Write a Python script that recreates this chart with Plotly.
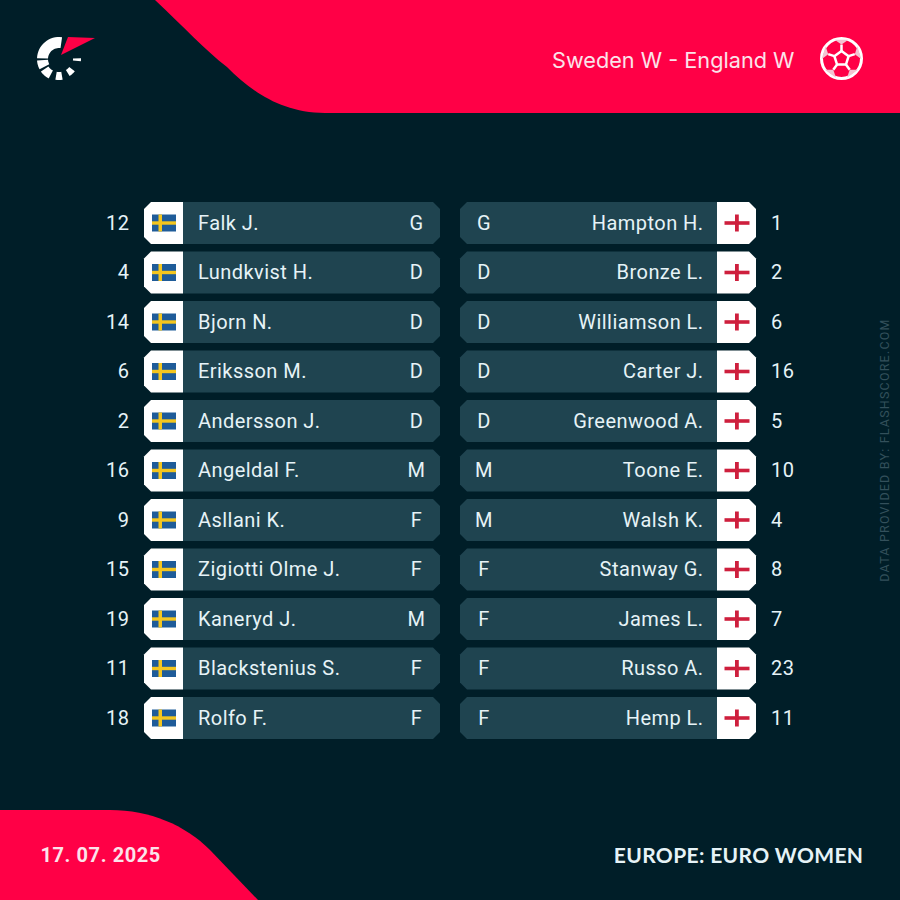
import math
import plotly.graph_objects as go

home_nums = [12, 4, 14, 6, 2, 16, 9, 15, 19, 11, 18]
home_names = ["Falk J.", "Lundkvist H.", "Bjorn N.", "Eriksson M.", "Andersson J.", "Angeldal F.",
              "Asllani K.", "Zigiotti Olme J.", "Kaneryd J.", "Blackstenius S.", "Rolfo F."]
home_pos = ["G", "D", "D", "D", "D", "M", "F", "F", "M", "F", "F"]
away_nums = [1, 2, 6, 16, 5, 10, 4, 8, 7, 23, 11]
away_names = ["Hampton H.", "Bronze L.", "Williamson L.", "Carter J.", "Greenwood A.", "Toone E.",
              "Walsh K.", "Stanway G.", "James L.", "Russo A.", "Hemp L."]
away_pos = ["G", "D", "D", "D", "D", "M", "M", "F", "F", "F", "F"]

BG = "#001e28"
RED = "#ff0046"
ROW = "#1f4450"
WHITE = "#ffffff"
TXT = "#e6f3f7"
FONT = "Roboto"

row_y = [223 + 49.5 * i for i in range(len(home_names))]
text_y = [y + 1.5 for y in row_y]

shapes = []


def poly(points, fill, line=None, width=0):
    path = "M " + " L ".join(f"{x:.2f},{y:.2f}" for x, y in points) + " Z"
    shapes.append(dict(type="path", path=path, fillcolor=fill, line=dict(color=line or fill, width=width), layer="below"))


def rect(x0, y0, x1, y1, fill):
    shapes.append(dict(type="rect", x0=x0, y0=y0, x1=x1, y1=y1, fillcolor=fill, line_width=0, layer="below"))


def sector(cx, cy, r0, r1, a0, a1, fill):
    # angles in degrees, counted clockwise from north
    steps = 16
    angles = [a0 + (a1 - a0) * k / steps for k in range(steps + 1)]
    outer = [(cx + r1 * math.sin(math.radians(a)), cy - r1 * math.cos(math.radians(a))) for a in angles]
    inner = [(cx + r0 * math.sin(math.radians(a)), cy - r0 * math.cos(math.radians(a))) for a in reversed(angles)]
    poly(outer + inner, fill)


# header and footer swooshes
shapes.append(dict(type="path", layer="below", fillcolor=RED, line_width=0,
                   path="M 155,0 C 185,28 205,50 227,67 C 250,90 280,113 325,113 L 900,113 L 900,0 Z"))
shapes.append(dict(type="path", layer="below", fillcolor=RED, line_width=0,
                   path="M 0,810 L 110,810 C 150,810 185,825 210,850 L 258,900 L 0,900 Z"))

# logo
LX, LY = 59, 59
sector(LX, LY, 11, 22, -88, 8, WHITE)
sector(LX, LY, 11, 22, -118, -94, WHITE)
sector(LX, LY, 13, 22, -152, -125, WHITE)
sector(LX, LY, 13, 21, -190, -170, WHITE)
sector(LX, LY, 13, 20, -232, -212, WHITE)
sector(LX, LY, 14, 22, -272, -264, WHITE)
poly([(68, 37), (95, 38), (61, 55)], RED)

# ball icon
BX, BY = 841.5, 58.5
shapes.append(dict(type="circle", x0=BX - 20, y0=BY - 20, x1=BX + 20, y1=BY + 20,
                   line=dict(color=WHITE, width=3), fillcolor=RED, layer="below"))
pent = [(BX + 7.5 * math.sin(math.radians(72 * k)), BY - 7.5 * math.cos(math.radians(72 * k))) for k in range(5)]
poly(pent, RED, WHITE, 2.5)
for k in range(5):
    a = math.radians(72 * k)
    x0, y0 = pent[k]
    shapes.append(dict(type="line", x0=x0, y0=y0, x1=BX + 14 * math.sin(a), y1=BY - 14 * math.cos(a),
                       line=dict(color=WHITE, width=2.5), layer="below"))
    b0, b1 = math.radians(72 * k - 20), math.radians(72 * k + 20)
    poly([(BX + 14 * math.sin(a), BY - 14 * math.cos(a)),
          (BX + 20 * math.sin(b0), BY - 20 * math.cos(b0)),
          (BX + 20 * math.sin(b1), BY - 20 * math.cos(b1))], "#f3c3d1")

# rows
C = 7
H = 21
for y in row_y:
    # home side
    poly([(144 + C, y - H), (183, y - H), (183, y + H), (144 + C, y + H), (144, y + H - C), (144, y - H + C)], WHITE)
    poly([(183, y - H), (440 - C, y - H), (440, y - H + C), (440, y + H - C), (440 - C, y + H), (183, y + H)], ROW)
    rect(152, y - 8.5, 176, y + 8.5, "#1f5c99")
    rect(152, y - 1.7, 176, y + 1.7, "#f4c61f")
    rect(158.5, y - 8.5, 162, y + 8.5, "#f4c61f")
    # away side
    poly([(460 + C, y - H), (717, y - H), (717, y + H), (460 + C, y + H), (460, y + H - C), (460, y - H + C)], ROW)
    poly([(717, y - H), (756 - C, y - H), (756, y - H + C), (756, y + H - C), (756 - C, y + H), (717, y + H)], WHITE)
    rect(724.5, y - 1.8, 749.5, y + 1.8, "#ce1f3d")
    rect(735, y - 8.5, 738.8, y + 8.5, "#ce1f3d")

fig = go.Figure()


def labels(x, ys, texts, pos, size=20, color=TXT):
    fig.add_trace(go.Scatter(x=[x] * len(ys), y=ys, text=[str(t) for t in texts], mode="text",
                             textposition=pos, hoverinfo="skip", showlegend=False,
                             textfont=dict(family=FONT, size=size, color=color)))


labels(129.5, text_y, home_nums, "middle left")
labels(198, text_y, home_names, "middle right")
labels(416.5, text_y, home_pos, "middle center")
labels(484, text_y, away_pos, "middle center")
labels(703.5, text_y, away_names, "middle left")
labels(771, text_y, away_nums, "middle right")


def note(x, y, text, size, anchor, family=FONT, color=WHITE, angle=0):
    fig.add_annotation(x=x, y=y, text=text, showarrow=False, xanchor=anchor, yanchor="middle", textangle=angle,
                       font=dict(family=family, size=size, color=color))


note(795.5, 59.5, "Sweden W - England W", 21.7, "right", "Inter", "#fbe3ea")
note(41.5, 855, "<b>17. 07. 2025</b>", 20, "left", FONT, "#fbe3ea")
note(861.5, 854.5, "<b>EUROPE: EURO WOMEN</b>", 21, "right", "Lato", TXT)
note(884, 450.5, "DATA PROVIDED BY: FLASHSCORE.COM", 12.5, "center", FONT, "#33505b", -90)

fig.update_layout(width=900, height=900, margin=dict(l=0, r=0, t=0, b=0), showlegend=False,
                  paper_bgcolor=BG, plot_bgcolor=BG, shapes=shapes,
                  xaxis=dict(range=[0, 900], visible=False, fixedrange=True),
                  yaxis=dict(range=[900, 0], visible=False, fixedrange=True))

# plotly has no letter spacing option, the original text is tracked out a little
spacing_js = """
document.body.style.margin = '0';
document.body.style.background = '%s';
document.querySelectorAll('.textpoint text').forEach(function (t) { t.style.letterSpacing = '0.45px'; });
var spacing = {'17. 07. 2025': '0.6px', 'EUROPE: EURO WOMEN': '0.35px', 'DATA PROVIDED BY: FLASHSCORE.COM': '1.2px'};
document.querySelectorAll('.annotation-text').forEach(function (t) {
    if (spacing[t.textContent]) { t.style.letterSpacing = spacing[t.textContent]; }
});
""" % BG
fig.write_html("out.html", config={"displayModeBar": False}, post_script=spacing_js)
